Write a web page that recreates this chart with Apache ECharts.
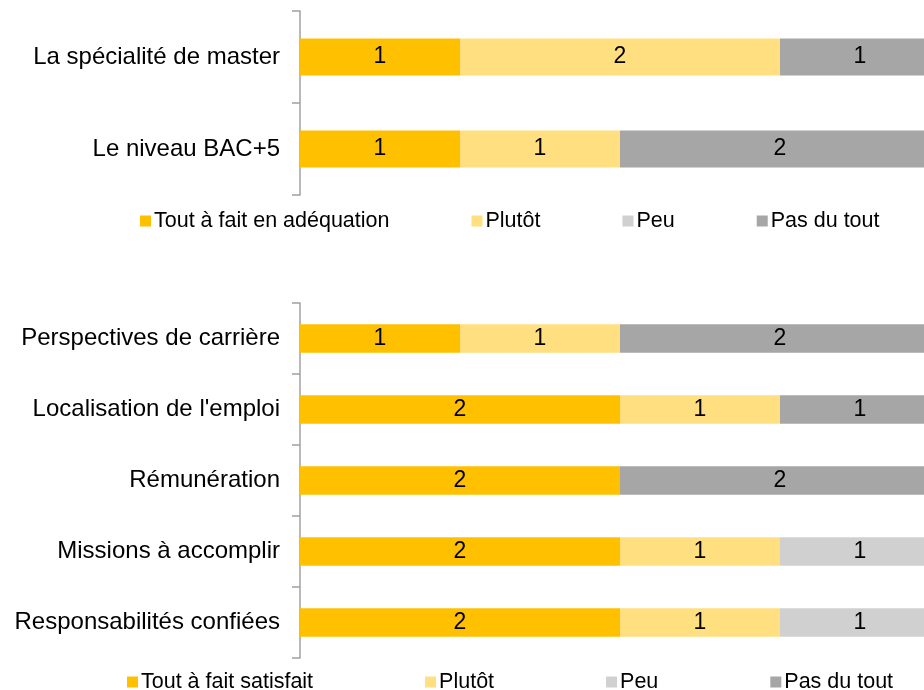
<!DOCTYPE html>
<html>
<head>
    <meta charset="utf-8">
    <title>Adéquation et satisfaction</title>
    <script src="https://cdn.jsdelivr.net/npm/echarts@6/dist/echarts.min.js"></script>
    <style>
        html,body{
            height:100%;
            width:100%;
            margin:0;
            padding:0;
            background:#fff;
        }
        #chart{
            width:924px;
            height:690px;
        }
    </style>
</head>
<body>
<div id="chart"></div>
<script>
    var myChart = echarts.init(document.getElementById('chart'));

    // haut : adéquation de l'emploi
    var topCats = ['La spécialité de master', 'Le niveau BAC+5'];
    var topNames = ['Tout à fait en adéquation', 'Plutôt', 'Peu', 'Pas du tout'];
    var topTout = [1, 1];
    var topPlutot = [2, 1];
    var topPeu = [0, 0];
    var topPas = [1, 2];

    // bas : satisfaction
    var botCats = ['Perspectives de carrière', "Localisation de l'emploi", 'Rémunération',
        'Missions à accomplir', 'Responsabilités confiées'];
    var botNames = ['Tout à fait satisfait', 'Plutôt', 'Peu', 'Pas du tout'];
    var botTout = [1, 2, 2, 2, 2];
    var botPlutot = [1, 1, 0, 1, 1];
    var botPeu = [0, 0, 0, 1, 1];
    var botPas = [2, 1, 2, 0, 0];

    var colors = ['#FFC000', '#FFDF80', '#D0D0D0', '#A6A6A6'];
    var font = 'Liberation Sans, Arial, sans-serif';

    function makeSeries(name, data, idx, color) {
        return {
            name: name,
            type: 'bar',
            stack: 'g' + idx,
            xAxisIndex: idx,
            yAxisIndex: idx,
            barWidth: '40%',
            itemStyle: {color: color},
            label: {
                show: true,
                position: 'inside',
                color: '#000',
                fontSize: 23,
                fontFamily: font,
                formatter: function (p) { return p.value ? p.value : ''; }
            },
            emphasis: {disabled: true},
            data: data
        };
    }

    var yBase = {
        type: 'category',
        inverse: true,
        axisLine: {show: true, lineStyle: {color: '#A0A0A0', width: 1.5}},
        axisTick: {show: true, length: 8, lineStyle: {color: '#A0A0A0', width: 1.5}},
        axisLabel: {color: '#000', fontSize: 24, fontFamily: font, margin: 20}
    };
    var xBase = {
        type: 'value',
        min: 0,
        max: 4,
        show: false
    };
    var legendBase = {
        itemWidth: 11,
        itemHeight: 11,
        icon: 'rect',
        itemGap: 82,
        textStyle: {color: '#000', fontSize: 21.5, fontFamily: font, padding: [0, 0, 0, -2]}
    };

    var option = {
        animation: false,
        grid: [
            {left: 300, top: 11, width: 640, height: 184, outerBoundsMode: 'none'},
            {left: 300, top: 303, width: 640, height: 355, outerBoundsMode: 'none'}
        ],
        xAxis: [
            Object.assign({gridIndex: 0}, xBase),
            Object.assign({gridIndex: 1}, xBase)
        ],
        yAxis: [
            Object.assign({gridIndex: 0, data: topCats}, yBase),
            Object.assign({gridIndex: 1, data: botCats}, yBase)
        ],
        legend: [
            Object.assign({}, legendBase, {data: topNames, left: 135, top: 205}),
            Object.assign({}, legendBase, {data: botNames, left: 122, top: 666, itemGap: 112})
        ],
        series: [
            makeSeries(topNames[0], topTout, 0, colors[0]),
            makeSeries(topNames[1], topPlutot, 0, colors[1]),
            makeSeries(topNames[2], topPeu, 0, colors[2]),
            makeSeries(topNames[3], topPas, 0, colors[3]),
            makeSeries(botNames[0], botTout, 1, colors[0]),
            makeSeries(botNames[1], botPlutot, 1, colors[1]),
            makeSeries(botNames[2], botPeu, 1, colors[2]),
            makeSeries(botNames[3], botPas, 1, colors[3])
        ]
    };
    myChart.setOption(option);
</script>
</body>
</html>
